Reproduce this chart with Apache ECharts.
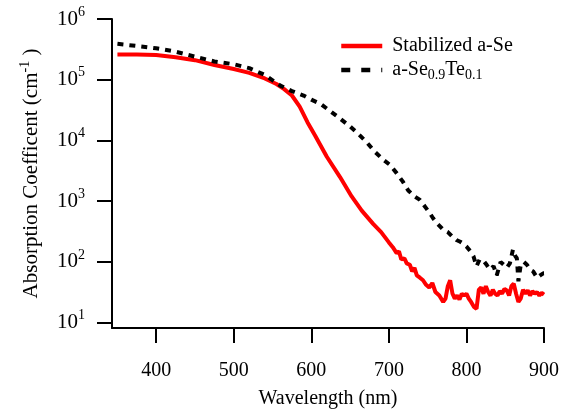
<!DOCTYPE html>
<html><head><meta charset="utf-8">
<script src="https://cdn.jsdelivr.net/npm/echarts@6/dist/echarts.min.js"></script>
<style>html,body{margin:0;padding:0;background:#fff}#c{width:562px;height:416px}</style>
</head><body><div id="c"></div>
<script>
// Stabilized a-Se
const redWl = [350,375,400,425,450,475,500,520,540,555,565,575,585,595,605,620,637,652,665,680,690,700,705,710,713,716,720,723,727,730,733,736,740,744,748,752,756,760,765,770,773,776,779,782,785,788,791,794,797,800,803,806,810,813,816,819,822,825,828,831,834,837,840,843,846,849,852,855,858,861,864,867,870,873,876,879,882,885,888,891,894,897,900];
const redVal = [2.6e5,2.6e5,2.55e5,2.35e5,2.1e5,1.75e5,1.5e5,1.3e5,1.05e5,8.5e4,7e4,5.5e4,3.6e4,2.0e4,1.2e4,5.4e3,2.5e3,1.2e3,700,420,310,210,175,140,150,110,115,95,90,70,80,60,55,50,42,38,45,32,28,22,25,40,50,30,25,28,24,30,28,30,25,22,18,17,35,38,30,40,32,28,35,30,28,33,30,36,34,28,40,44,30,22,25,35,30,34,28,33,30,32,28,31,29];
// a-Se0.9Te0.1
const blkWl = [350,375,400,425,450,475,500,520,540,560,575,590,600,612,625,637,650,660,671,682,693,701,710,718,725,733,740,747,753,757,763,770,776,782,787,792,796,800,805,809,813,817,822,826,830,835,839,844,848,852,856,860,863,865,867,870,874,878,882,886,891,895,899,900];
const blkVal = [3.9e5,3.6e5,3.3e5,2.9e5,2.4e5,2.0e5,1.8e5,1.55e5,1.2e5,8.0e4,6.5e4,5.5e4,4.7e4,4.0e4,3.0e4,2.3e4,1.7e4,1.3e4,9.5e3,6.5e3,4.8e3,4.0e3,2.9e3,2.1e3,1.5e3,1.2e3,1.05e3,800,630,525,420,340,310,260,230,215,200,180,150,125,85,110,105,90,75,85,60,100,90,80,95,160,125,115,48,90,100,90,75,70,55,60,65,65];
const xTicks = [400,500,600,700,800,900];
const yTicks = [10,100,1000,10000,100000,1000000];
const seriesNames = ['Stabilized a-Se','a-Se0.9Te0.1'];

const FONT = 'Liberation Serif';
const chart = echarts.init(document.getElementById('c'), null, {renderer:'canvas'});
chart.setOption({
  animation:false,
  backgroundColor:'#fff',
  grid:{left:112, right:18, top:19, bottom:88, containLabel:false},
  legend:{
    orient:'vertical', left:339, top:36, padding:0, itemWidth:41, itemHeight:14, itemGap:4,
    data:[
      {name:seriesNames[0], lineStyle:{width:4.5, color:'#ff0000', type:'solid'}},
      {name:seriesNames[1], lineStyle:{type:[9,11], width:4.5, color:'#000'}}
    ],
    itemStyle:{color:'transparent', borderColor:'transparent', borderWidth:0},
    textStyle:{fontFamily:FONT, fontSize:20, color:'#000', padding:[0,0,0,5],
      rich:{sub:{fontFamily:FONT, fontSize:14, color:'#000', padding:[10,0,0,0]}}},
    formatter:function(n){ return n==='a-Se0.9Te0.1' ? 'a-Se{sub|0.9}Te{sub|0.1}' : n; }
  },
  xAxis:{
    type:'value', min:343, max:900,
    name:'Wavelength (nm)', nameLocation:'middle', nameGap:61,
    nameTextStyle:{fontFamily:FONT, fontSize:20, color:'#000'},
    axisLine:{lineStyle:{color:'#000', width:2}},
    axisTick:{show:true, length:15, inside:false, lineStyle:{color:'#000', width:2}, customValues:xTicks},
    axisLabel:{fontFamily:FONT, fontSize:20, color:'#000', margin:33, customValues:xTicks},
    splitLine:{show:false}
  },
  yAxis:{
    type:'log', logBase:10, min:8.18, max:1e6,
    name:'Absorption Coefficent (cm{sup|-1} )', nameLocation:'middle', nameGap:68, nameRotate:90,
    nameTextStyle:{fontFamily:FONT, fontSize:21, color:'#000',
      rich:{sup:{fontFamily:FONT, fontSize:14, color:'#000', padding:[0,0,12,0]}}},
    axisLine:{show:true, lineStyle:{color:'#000', width:2}},
    axisTick:{show:true, length:15, inside:false, lineStyle:{color:'#000', width:2}, customValues:yTicks},
    axisLabel:{fontFamily:FONT, fontSize:20, color:'#000', margin:27, customValues:yTicks,
      formatter:function(v){ const e=Math.round(Math.log10(v)); return '{b|10}{s|'+e+'}'; },
      rich:{b:{fontFamily:FONT, fontSize:21, color:'#000'}, s:{fontFamily:FONT, fontSize:14, color:'#000', padding:[0,0,14,0]}}},
    splitLine:{show:false}, minorTick:{show:false}
  },
  series:[
    {name:seriesNames[0], type:'line', symbol:'none', showSymbol:false, z:2,
     lineStyle:{color:'#ff0000', width:4}, itemStyle:{color:'#ff0000'},
     data:redWl.map((w,i)=>[w, redVal[i]])},
    {name:seriesNames[1], type:'line', symbol:'none', showSymbol:false, z:3,
     lineStyle:{color:'#000', width:4, type:[6,6]}, itemStyle:{color:'#000'},
     data:blkWl.map((w,i)=>[w, blkVal[i]])}
  ]
});
</script></body></html>
